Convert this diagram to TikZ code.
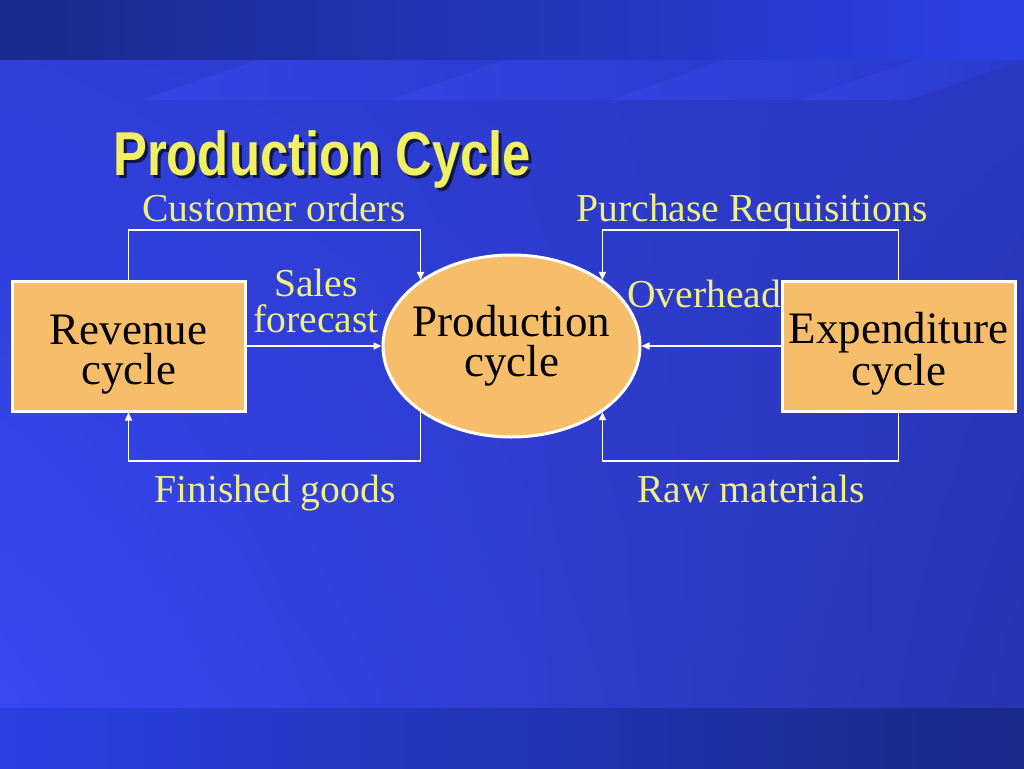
\documentclass[tikz,border=0pt]{standalone}
\usepackage{fontspec}
\setmainfont{Liberation Serif}
\newfontfamily\titlefont[FakeStretch=0.82]{Liberation Sans}
\usetikzlibrary{shapes.geometric,arrows.meta,shadings}

\definecolor{boxfill}{RGB}{246,189,106}
\definecolor{labelyellow}{RGB}{240,240,130}
\definecolor{titleyellow}{RGB}{240,240,96}
\definecolor{titleshadow}{RGB}{16,22,70}
\definecolor{bandleft}{RGB}{27,42,142}
\definecolor{bandright}{RGB}{42,64,228}
\definecolor{footleft}{RGB}{40,64,226}
\definecolor{footright}{RGB}{26,40,136}
\definecolor{mainul}{RGB}{46,62,214}
\definecolor{mainll}{RGB}{56,72,244}
\definecolor{mainur}{RGB}{42,56,196}
\definecolor{mainlr}{RGB}{40,52,176}
\definecolor{stripe}{RGB}{60,78,250}

\newcommand\boxstrut{\rule{0pt}{46pt}}

\tikzset{
  cycle box/.style={draw=white, line width=3pt, fill=boxfill, minimum width=233pt,
    minimum height=130pt, inner sep=0pt, align=center, font=\fontsize{45}{40}\selectfont},
  cycle oval/.style={cycle box, ellipse, inner xsep=-9pt, minimum width=257pt, minimum height=182pt},
  flow/.style={->, draw=white, line width=1.5pt},
  flow label/.style={text=labelyellow, inner sep=0pt, align=center,
    font=\fontsize{39.6}{36}\selectfont},
  title text/.style={anchor=base west, inner sep=0pt,
    font=\titlefont\bfseries\fontsize{62}{62}\selectfont},
}

\begin{document}
\begin{tikzpicture}[x=1pt, y=-1pt, >={Triangle[length=8pt,width=7pt]}]
  \useasboundingbox (0,0) rectangle (1024,768);
  % background
  \shade[left color=bandleft, right color=bandright] (0,0) rectangle (1024,60);
  \shade[upper left=mainul, lower left=mainll, upper right=mainur, lower right=mainlr]
    (0,60) rectangle (1024,708);
  \foreach \sx/\ex in {257/505, 505/725, 725/915, 915/1024}
    \shade[left color=stripe, right color=mainul, opacity=0.45]
      (\sx,60) -- (\ex,60) -- ({\ex-115},100) -- ({\sx-115},100) -- cycle;
  \shade[left color=footleft, right color=footright] (0,708) rectangle (1024,768);

  % title
  \node[title text, text=titleshadow] (title-shadow) at (116,178) {Production Cycle};
  \node[title text, text=titleyellow] (title) at (113,175) {Production Cycle};

  % cycles
  \node[cycle box] (rev) at (128.5,346) {\boxstrut Revenue\\cycle};
  \node[cycle oval] (prod) at (511.5,346) {Production\\cycle};
  \node[cycle box] (exp) at (898.5,346) {\boxstrut Expenditure\\cycle};

  \coordinate (top) at (0,230);
  \coordinate (bottom) at (0,461);

  % flows
  \draw[flow] (rev.north) |- (prod.144 |- top) -- (prod.144);
  \draw[flow] (rev.east) -- (prod.west);
  \draw[flow] (prod.216) -- (prod.216 |- bottom) -| (rev.south);
  \draw[flow] (exp.north) |- (prod.36 |- top) -- (prod.36);
  \draw[flow] (exp.west) -- (prod.east);
  \draw[flow] (exp.south) |- (prod.324 |- bottom) -- (prod.324);

  % labels
  \node[flow label, anchor=base] (orders) at (274,221) {Customer orders};
  \node[flow label, anchor=base] (requisitions) at (752,221) {Purchase Requisitions};
  \node[flow label] (forecast) at (316,300.5) {Sales\\forecast};
  \node[flow label, anchor=base] (overhead) at (704,307) {Overhead};
  \node[flow label, anchor=base] (goods) at (275,502) {Finished goods};
  \node[flow label, anchor=base] (materials) at (751,502) {Raw materials};
\end{tikzpicture}
\end{document}
